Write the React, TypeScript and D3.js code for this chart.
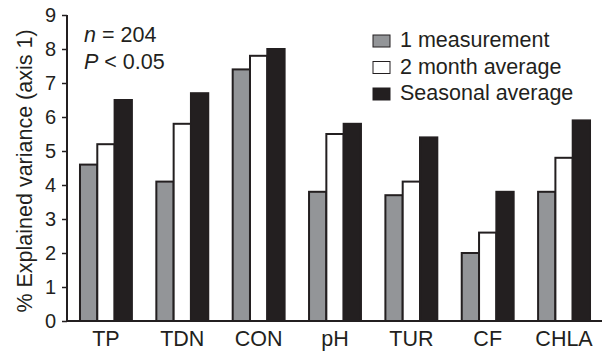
import React, { useEffect, useRef } from 'react'
import * as d3 from 'd3'

const categories = ['TP', 'TDN', 'CON', 'pH', 'TUR', 'CF', 'CHLA']
const seriesNames = ['1 measurement', '2 month average', 'Seasonal average']
const oneMeasurement = [4.6, 4.1, 7.4, 3.8, 3.7, 2.0, 3.8]
const twoMonthAverage = [5.2, 5.8, 7.8, 5.5, 4.1, 2.6, 4.8]
const seasonalAverage = [6.5, 6.7, 8.0, 5.8, 5.4, 3.8, 5.9]
const yTicks = [0, 1, 2, 3, 4, 5, 6, 7, 8, 9]

const W = 604
const H = 352
const ink = '#231f20'
const fills = ['#939598', '#ffffff', ink]
const font = '"Liberation Sans", Arial, Helvetica, sans-serif'

export default function App () {
  const ref = useRef<SVGSVGElement>(null)

  useEffect(() => {
    const svg = d3.select(ref.current)
    svg.selectAll('*').remove()

    const series = [oneMeasurement, twoMonthAverage, seasonalAverage]
    const x = d3.scaleBand().domain(categories).range([68, 602]).paddingInner(0.32).paddingOuter(0.157)
    const xs = d3.scaleBand().domain(seriesNames).range([0, x.bandwidth()])
    const y = d3.scaleLinear().domain([0, 9]).range([321, 15])

    // bars
    const g = svg.append('g')
    categories.forEach((c, i) => {
      series.forEach((s, j) => {
        g.append('rect')
          .attr('x', x(c)! + xs(seriesNames[j])!)
          .attr('y', y(s[i]))
          .attr('width', xs.bandwidth())
          .attr('height', y(0) - y(s[i]))
          .attr('fill', fills[j])
          .attr('stroke', ink)
          .attr('stroke-width', 2)
      })
    })

    // y axis
    const ya = svg.append('g').attr('transform', 'translate(67,0)')
      .call(d3.axisLeft(y).tickValues(yTicks).tickSize(5).tickPadding(6).tickFormat(d3.format('d')))
    ya.select('.domain').attr('stroke', ink).attr('stroke-width', 2).attr('d', `M0,${y(9)}V${y(0)}`)
    ya.selectAll('.tick line').attr('stroke', ink).attr('stroke-width', 1.5)
    ya.selectAll('.tick text').attr('fill', ink).style('font-family', font).style('font-size', '20px')

    // baseline
    svg.append('line')
      .attr('x1', 66).attr('x2', 602).attr('y1', y(0)).attr('y2', y(0))
      .attr('stroke', ink).attr('stroke-width', 2)

    // x labels
    svg.append('g').selectAll('text').data(categories).join('text')
      .attr('x', d => x(d)! + x.bandwidth() / 2)
      .attr('y', 346)
      .attr('text-anchor', 'middle')
      .attr('fill', ink)
      .style('font-family', font).style('font-size', '21.5px')
      .text(d => d)

    // y label
    svg.append('text')
      .attr('transform', `translate(32,${(y(0) + y(9)) / 2 + 3}) rotate(-90)`)
      .attr('text-anchor', 'middle')
      .attr('fill', ink)
      .style('font-family', font).style('font-size', '21.5px')
      .text('% Explained variance (axis 1)')

    // n and P
    const t1 = svg.append('text').attr('x', 84).attr('y', 42).attr('fill', ink)
      .style('font-family', font).style('font-size', '21.5px')
    t1.append('tspan').attr('font-style', 'italic').text('n')
    t1.append('tspan').text(' = 204')
    const t2 = svg.append('text').attr('x', 84).attr('y', 69).attr('fill', ink)
      .style('font-family', font).style('font-size', '21.5px')
    t2.append('tspan').attr('font-style', 'italic').text('P')
    t2.append('tspan').text(' < 0.05')

    // legend
    const lg = svg.append('g').attr('transform', 'translate(373,35)')
    seriesNames.forEach((name, j) => {
      lg.append('rect').attr('x', 0).attr('y', j * 26.5).attr('width', 17).attr('height', 12)
        .attr('fill', fills[j]).attr('stroke', ink).attr('stroke-width', 1)
      lg.append('text').attr('x', 27).attr('y', j * 26.5 + 12).attr('fill', ink)
        .style('font-family', font).style('font-size', '21.5px')
        .text(name)
    })
  }, [])

  return (
    <svg ref={ref} width={W} height={H}
      style={{ position: 'absolute', left: 0, top: 0, background: '#fff' }} />
  )
}
